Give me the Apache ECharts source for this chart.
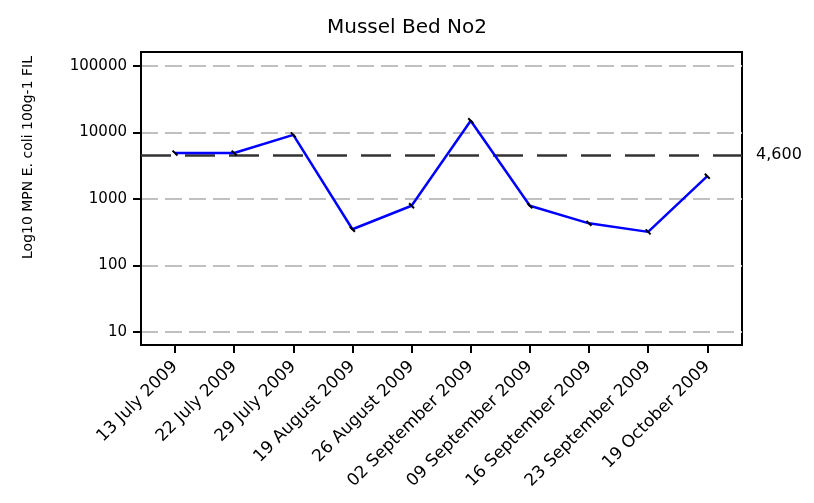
<!DOCTYPE html>
<html>
<head>
<meta charset="utf-8">
<title>Mussel Bed No2</title>
<script src="https://cdn.jsdelivr.net/npm/echarts@6/dist/echarts.min.js"></script>
<style>
  html, body { margin: 0; padding: 0; background: #fff; }
  #chart { width: 814px; height: 503px; }
</style>
</head>
<body>
<div id="chart"></div>
<script>
// sample dates (one point per date)
const dates = ['13 July 2009', '22 July 2009', '29 July 2009', '19 August 2009', '26 August 2009',
  '02 September 2009', '09 September 2009', '16 September 2009', '23 September 2009', '19 October 2009']
// MPN E. coli per 100g FIL
const ecoli = [4900, 4900, 9200, 350, 790, 15000, 790, 430, 320, 2200]
// decade ticks of the y axis
const yTicks = [10, 100, 1000, 10000, 100000]
const limit = 4600
const limitLabel = '4,600'

const font = 'DejaVu Sans'
const lg = v => Math.log10(v)

const chart = echarts.init(document.getElementById('chart'))
chart.setOption({
  animation: false,
  title: {
    text: 'Mussel Bed No2',
    left: 'center',
    top: 13,
    textStyle: { fontFamily: font, fontSize: 20, fontWeight: 'normal', color: '#000' }
  },
  grid: {
    left: 141, right: 72, top: 52, bottom: 158,
    show: true, borderColor: '#000', borderWidth: 2, backgroundColor: '#fff'
  },
  xAxis: {
    type: 'value',
    min: -0.575,
    max: 9.587,
    axisLine: { onZero: false, lineStyle: { color: '#000', width: 2 } },
    axisTick: { show: true, length: 8, lineStyle: { color: '#000', width: 2 }, customValues: dates.map((d, i) => i) },
    axisLabel: {
      customValues: dates.map((d, i) => i),
      rotate: 45, margin: 19,
      fontFamily: font, fontSize: 17, color: '#000',
      formatter: v => dates[Math.round(v)]
    },
    splitLine: { show: false }
  },
  yAxis: {
    type: 'value',
    min: 0.804,
    max: 5.21,
    name: 'Log10 MPN E. coli 100g-1 FIL',
    nameLocation: 'middle',
    nameGap: 106,
    nameRotate: 90,
    nameTextStyle: { fontFamily: font, fontSize: 14, color: '#000', padding: [0, 0, 0, 82] },
    axisLine: { show: true, onZero: false, lineStyle: { color: '#000', width: 2 } },
    axisTick: { show: true, length: 8, lineStyle: { color: '#000', width: 2 }, customValues: yTicks.map(lg) },
    axisLabel: {
      customValues: yTicks.map(lg),
      margin: 14,
      fontFamily: font, fontSize: 15, color: '#000',
      formatter: v => String(Math.round(Math.pow(10, v)))
    },
    splitLine: { show: true, lineStyle: { color: '#c0c0c0', width: 2, type: [17, 7] } }
  },
  series: [{
    type: 'line',
    data: ecoli.map((v, i) => [i, lg(v)]),
    lineStyle: { color: '#0000ff', width: 2.5 },
    symbol: 'rect',
    symbolSize: [2, 7],
    symbolRotate: 45,
    itemStyle: { color: '#000' },
    z: 3,
    markLine: {
      silent: true,
      symbol: 'none',
      data: [{ yAxis: lg(limit) }],
      lineStyle: { color: '#333', width: 2.5, type: [30, 14] },
      label: {
        position: 'end', distance: 14,
        formatter: limitLabel,
        fontFamily: font, fontSize: 16, color: '#000'
      },
      z: 2
    }
  }]
})
</script>
</body>
</html>
